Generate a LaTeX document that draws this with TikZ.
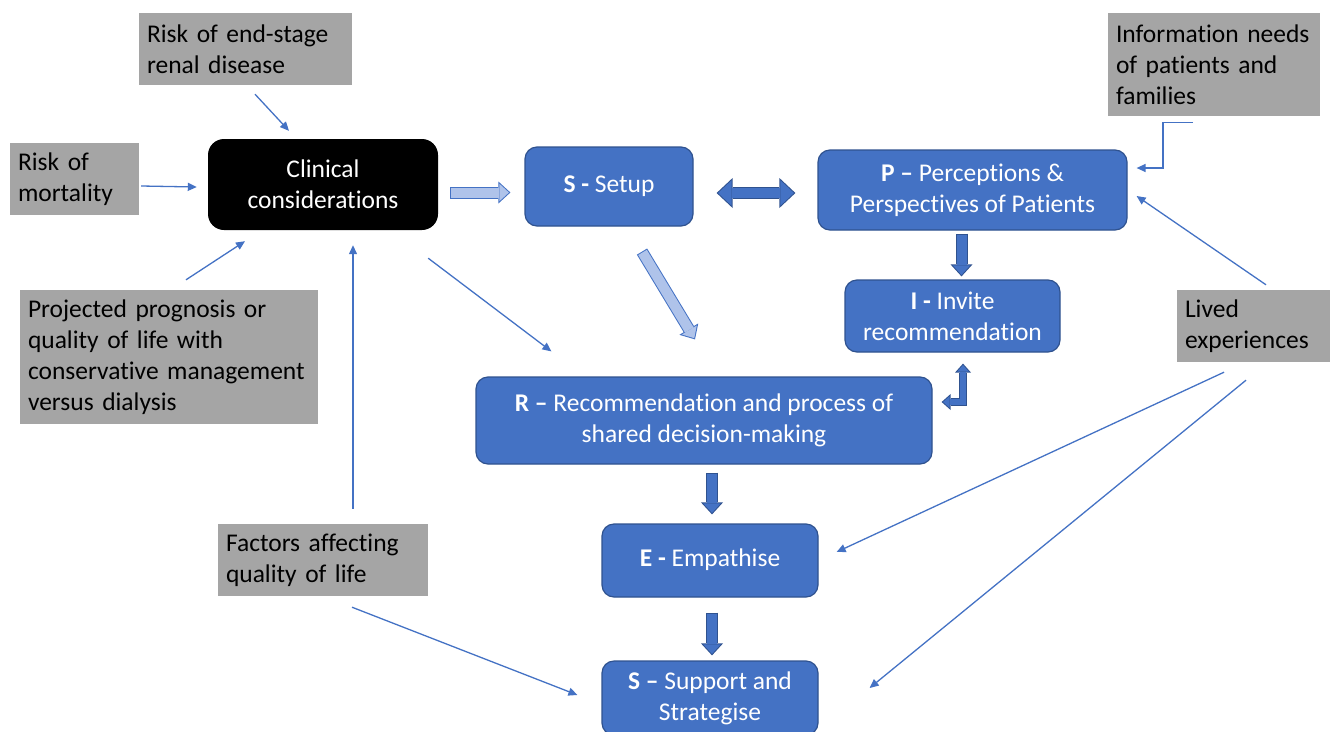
\documentclass[tikz,border=0pt]{standalone}
\usepackage{fontspec}
\setmainfont{Carlito}[Ligatures=NoCommon]
\usetikzlibrary{arrows.meta,calc}
\definecolor{boxblue}{HTML}{4472C4}
\definecolor{edgeblue}{HTML}{2F528F}
\definecolor{boxgrey}{HTML}{A5A5A5}
\definecolor{paleblue}{HTML}{AFC3EA}
\begin{document}
\begin{tikzpicture}[x=1pt, y=-1pt, font=\fontsize{25.5}{31}\selectfont,
  factor/.style={fill=boxgrey, inner xsep=8pt, inner ysep=0pt, align=left},
  stage/.style={fill=boxblue, draw=edgeblue, line width=1.2pt, rounded corners=12pt, text=white, align=center, inner sep=0pt},
  link/.style={draw=boxblue, line width=1.3pt, -{Triangle[length=9pt,width=8pt]}},
  bigedge/.style={draw=#1, line width=12pt, -{Triangle[length=12pt,width=22pt,line width=0pt]}},
  bigfill/.style={draw=#1, line width=10pt, shorten >=1.5pt, shorten <=1pt, -{Triangle[length=9.5pt,width=17.4pt,line width=0pt]}},
  twoedge/.style={draw=edgeblue, line width=12pt, {Triangle[length=16pt,width=30pt,line width=0pt]}-{Triangle[length=16pt,width=30pt,line width=0pt]}},
  twofill/.style={draw=boxblue, line width=10pt, shorten >=1.5pt, shorten <=1.5pt, {Triangle[length=13.5pt,width=25.3pt,line width=0pt]}-{Triangle[length=13.5pt,width=25.3pt,line width=0pt]}},
  bentedge/.style={draw=edgeblue, line width=8pt, line join=miter, {Triangle[length=9pt,width=16pt,line width=0pt]}-{Triangle[length=9pt,width=16pt,line width=0pt]}},
  bentfill/.style={draw=boxblue, line width=6pt, line join=miter, shorten >=1.5pt, shorten <=1.5pt, {Triangle[length=6.5pt,width=11.6pt,line width=0pt]}-{Triangle[length=6.5pt,width=11.6pt,line width=0pt]}}]
\useasboundingbox (0,0) rectangle (1330,731);

\node[factor, text width=197pt, minimum height=72pt] (esrd) at (245.5,49) {Risk of end-stage\\renal disease};
\node[factor, text width=113pt, minimum height=72pt] (mort) at (74.5,179) {Risk of\\mortality};
\node[fill=black, text=white, rounded corners=16pt, minimum width=230pt, minimum height=91pt, align=center] (clin) at (323,184.5) {Clinical\\considerations};
\node[factor, text width=282pt, minimum height=134pt] (proj) at (169,357) {Projected prognosis or\\quality of life with\\conservative management\\versus dialysis};
\node[factor, text width=194pt, minimum height=72pt] (qol) at (323,560) {Factors affecting\\quality of life};
\node[factor, text width=196pt, minimum height=103pt] (info) at (1214,64.5) {Information needs\\of patients and\\families};
\node[factor, text width=139pt, minimum height=72pt] (lived) at (1254.5,326) {Lived\\experiences};

\node[stage, minimum width=168pt, minimum height=79pt] (setup) at (609,186.5) {\textbf{S -} Setup\strut};
\node[stage, minimum width=309pt, minimum height=80pt] (perc) at (972.5,190) {\textbf{P –} Perceptions \&\\Perspectives of Patients};
\node[stage, minimum width=215pt, minimum height=72pt] (invite) at (952.5,316) {\textbf{I -} Invite\\recommendation};
\node[stage, minimum width=456pt, minimum height=87pt] (rec) at (704,420.5) {\textbf{R –} Recommendation and process of\\shared decision-making};
\node[stage, minimum width=216pt, minimum height=73pt] (emp) at (710,560.5) {\textbf{E -} Empathise\strut};
\node[stage, minimum width=216pt, minimum height=74pt] (supp) at (710,698) {\textbf{S –} Support and\\Strategise};

\draw[link] ($(esrd.south)+(9.5,9)$) -- ($(clin.north)+(-34,-8)$);
\draw[link] ($(mort.east)+(2,7)$) -- ($(clin.west)+(-11,2.5)$);
\draw[link] ($(proj.north)+(17,-10)$) -- ($(clin.south)+(-78,11)$);
\draw[link] ($(qol.north)+(30,-15)$) -- ($(clin.south)+(30,15)$);
\draw[link] ($(clin.south east)+(-10,28)$) -- ($(rec.north west)+(76,-25)$);
\draw[link] ($(qol.south)+(29,11)$) -- ($(supp.west)+(-24,-3)$);
\draw[link] ($(info.south)+(-21,6)$) -- ++(-30,0) |- ($(perc.east)+(9,-22)$);
\draw[link] ($(lived.north)+(11.5,-5)$) -- ($(perc.east)+(9,6)$);
\draw[link] ($(lived.south)+(-30.5,10)$) -- ($(emp.east)+(18,-8.5)$);
\draw[link] ($(lived.south)+(-8.5,18)$) -- ($(supp.east)+(51,-10)$);

\draw[bigedge=boxblue] ($(clin.east)+(12,8)$) -- ($(setup.west)+(-14,6)$);
\draw[bigfill=paleblue] ($(clin.east)+(12,8)$) -- ($(setup.west)+(-14,6)$);
\draw[bigedge=boxblue] ($(setup.south)+(33,25)$) -- ($(rec.north)+(-9,-37)$);
\draw[bigfill=paleblue] ($(setup.south)+(33,25)$) -- ($(rec.north)+(-9,-37)$);
\draw[twoedge] ($(setup.east)+(23,6.5)$) -- ($(perc.west)+(-22,3)$);
\draw[twofill] ($(setup.east)+(23,6.5)$) -- ($(perc.west)+(-22,3)$);
\draw[bigedge=edgeblue] ($(perc.south)+(-11,3)$) -- ($(invite.north)+(9,-3)$);
\draw[bigfill=boxblue] ($(perc.south)+(-11,3)$) -- ($(invite.north)+(9,-3)$);
\draw[bentedge] ($(rec.east)+(9,-18.5)$) -| ($(invite.south)+(10.5,11)$);
\draw[bentfill] ($(rec.east)+(9,-18.5)$) -| ($(invite.south)+(10.5,11)$);
\draw[bigedge=edgeblue] ($(rec.south)+(8,8)$) -- ($(emp.north)+(2,-9)$);
\draw[bigfill=boxblue] ($(rec.south)+(8,8)$) -- ($(emp.north)+(2,-9)$);
\draw[bigedge=edgeblue] ($(emp.south)+(2,15)$) -- ($(supp.north)+(2,-5)$);
\draw[bigfill=boxblue] ($(emp.south)+(2,15)$) -- ($(supp.north)+(2,-5)$);
\end{tikzpicture}
\end{document}
